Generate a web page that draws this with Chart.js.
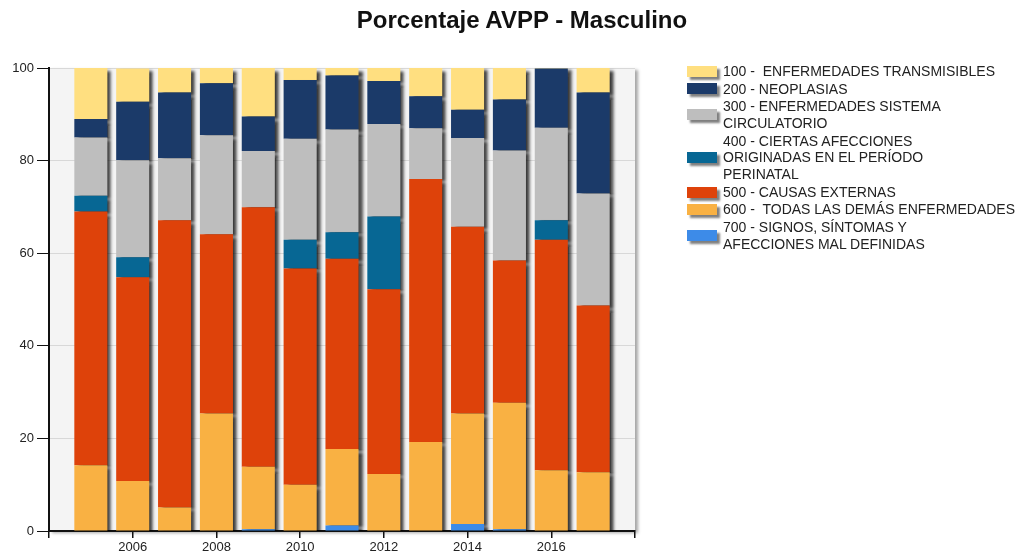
<!DOCTYPE html>
<html>
<head>
<meta charset="utf-8">
<script src="https://cdn.jsdelivr.net/npm/chart.js@4"></script>
<style>
    body { margin: 0; background: #fff; font-family: "Liberation Sans", Arial, sans-serif; }
    #wrap { position: relative; width: 1022px; height: 559px; overflow: hidden; }
    #chart { position: absolute; left: 0; top: 0; }
    #title { position: absolute; left: 0; top: 8px; width: 1044px; text-align: center;
             font: bold 24px "Liberation Sans", Arial, sans-serif; color: #111; line-height: 24px; }
    #legend { position: absolute; left: 687px; top: 63px; font-size: 14px; color: #222; }
    .item { display: flex; align-items: center; margin-bottom: 0.8px; }
    .swatch { width: 30px; height: 11px; margin-right: 6px; flex: none;
              box-shadow: 3px 3px 2px rgba(0, 0, 0, 0.5); }
    .txt { line-height: 16.8px; white-space: pre; }
</style>
</head>
<body>
<div id="wrap">
    <canvas id="chart" width="1022" height="559"></canvas>
    <div id="title">Porcentaje AVPP - Masculino</div>
    <div id="legend"></div>
</div>
<script>
// data (percent of AVPP by cause group, male)
const years = [2005, 2006, 2007, 2008, 2009, 2010, 2011, 2012, 2013, 2014, 2015, 2016, 2017];
const xTicks = [2004, 2006, 2008, 2010, 2012, 2014, 2016, 2018];
const yTicks = [0, 20, 40, 60, 80, 100];

const grp100 = [11.0, 7.2, 5.3, 3.4, 10.6, 2.6, 1.7, 2.9, 6.1, 9.2, 6.9, 0.2, 5.3];
const grp200 = [4.0, 12.6, 14.2, 11.2, 7.4, 12.7, 11.7, 9.3, 6.9, 6.1, 11.0, 12.8, 21.8];
const grp300 = [12.6, 21.0, 13.4, 21.4, 12.2, 21.8, 22.2, 20.0, 11.0, 19.2, 23.8, 20.0, 24.2];
const grp400 = [3.4, 4.3, 0, 0, 0, 6.2, 5.7, 15.7, 0, 0, 0, 4.2, 0];
const grp500 = [54.8, 44.0, 62.0, 38.7, 56.0, 46.7, 41.1, 39.9, 56.8, 40.3, 30.7, 49.8, 36.0];
const grp600 = [14.2, 10.8, 5.1, 25.4, 13.5, 10.0, 16.5, 12.3, 19.2, 23.9, 27.3, 13.1, 12.7];
const grp700 = [0, 0, 0, 0, 0.4, 0, 1.2, 0, 0, 1.5, 0.4, 0, 0];

const labels100 = ['100 -  ENFERMEDADES TRANSMISIBLES'];
const labels200 = ['200 - NEOPLASIAS'];
const labels300 = ['300 - ENFERMEDADES SISTEMA', 'CIRCULATORIO'];
const labels400 = ['400 - CIERTAS AFECCIONES', 'ORIGINADAS EN EL PERÍODO', 'PERINATAL'];
const labels500 = ['500 - CAUSAS EXTERNAS'];
const labels600 = ['600 -  TODAS LAS DEMÁS ENFERMEDADES'];
const labels700 = ['700 - SIGNOS, SÍNTOMAS Y', 'AFECCIONES MAL DEFINIDAS'];

// bottom of the stack first
const groups = [
    { lines: labels700, values: grp700, color: '#3d8be8' },
    { lines: labels600, values: grp600, color: '#f9b143' },
    { lines: labels500, values: grp500, color: '#de420a' },
    { lines: labels400, values: grp400, color: '#076794' },
    { lines: labels300, values: grp300, color: '#bebebe' },
    { lines: labels200, values: grp200, color: '#1b3a69' },
    { lines: labels100, values: grp100, color: '#ffdf80' },
];

const plotBackground = {
    id: 'plotBackground',
    beforeDraw(chart) {
        const { ctx, chartArea: a } = chart;
        ctx.save();
        ctx.shadowColor = 'rgba(0, 0, 0, 0.35)';
        ctx.shadowOffsetX = 3;
        ctx.shadowOffsetY = 2;
        ctx.shadowBlur = 3;
        ctx.fillStyle = '#f4f4f4';
        ctx.fillRect(a.left, a.top, a.right - a.left, a.bottom - a.top);
        ctx.restore();
    }
};

const barShadow = {
    id: 'barShadow',
    beforeDatasetsDraw(chart) {
        const ctx = chart.ctx;
        ctx.save();
        ctx.shadowColor = 'rgba(0, 0, 0, 0.75)';
        ctx.shadowOffsetX = 4;
        ctx.shadowOffsetY = 3;
        ctx.shadowBlur = 3;
    },
    afterDatasetsDraw(chart) {
        chart.ctx.restore();
    }
};

new Chart(document.getElementById('chart'), {
    type: 'bar',
    data: {
        datasets: groups.map(g => ({
            label: g.lines.join(' '),
            data: years.map((yr, i) => ({ x: yr, y: g.values[i] })),
            backgroundColor: g.color,
            borderWidth: 0,
            stack: 'all',
            barPercentage: 0.79,
            categoryPercentage: 1,
        }))
    },
    options: {
        responsive: false,
        animation: false,
        layout: { padding: { top: 68, right: 387, left: 0, bottom: 0 } },
        plugins: {
            legend: { display: false },
            title: { display: false },
            tooltip: { enabled: false },
        },
        scales: {
            x: {
                type: 'linear',
                min: 2004,
                max: 2018,
                offset: false,
                afterBuildTicks: s => { s.ticks = xTicks.map(v => ({ value: v })); },
                afterFit: s => { s.height = 28; },
                grid: { drawOnChartArea: false, offset: false, tickLength: 7, tickColor: '#111', lineWidth: 1.5 },
                border: { color: '#111', width: 2 },
                ticks: {
                    autoSkip: false,
                    maxRotation: 0,
                    padding: 2,
                    color: '#222',
                    font: { family: '"Liberation Sans", Arial, sans-serif', size: 13 },
                    callback: v => (v === xTicks[0] || v === xTicks[xTicks.length - 1]) ? '' : String(v),
                },
            },
            y: {
                stacked: true,
                min: 0,
                max: 100,
                afterBuildTicks: s => { s.ticks = yTicks.map(v => ({ value: v })); },
                afterFit: s => { s.width = 49; },
                grid: { color: '#d8d8d8', tickColor: '#111', tickLength: 12 },
                border: { color: '#111', width: 2 },
                ticks: {
                    padding: 3,
                    color: '#222',
                    font: { family: '"Liberation Sans", Arial, sans-serif', size: 13 },
                },
            },
        },
    },
    plugins: [plotBackground, barShadow],
});

// legend, top of the stack first
const legend = document.getElementById('legend');
groups.slice().reverse().forEach(g => {
    const item = document.createElement('div');
    item.className = 'item';
    const sw = document.createElement('div');
    sw.className = 'swatch';
    sw.style.background = g.color;
    const txt = document.createElement('div');
    txt.className = 'txt';
    txt.textContent = g.lines.join('\n');
    item.appendChild(sw);
    item.appendChild(txt);
    legend.appendChild(item);
});
</script>
</body>
</html>
